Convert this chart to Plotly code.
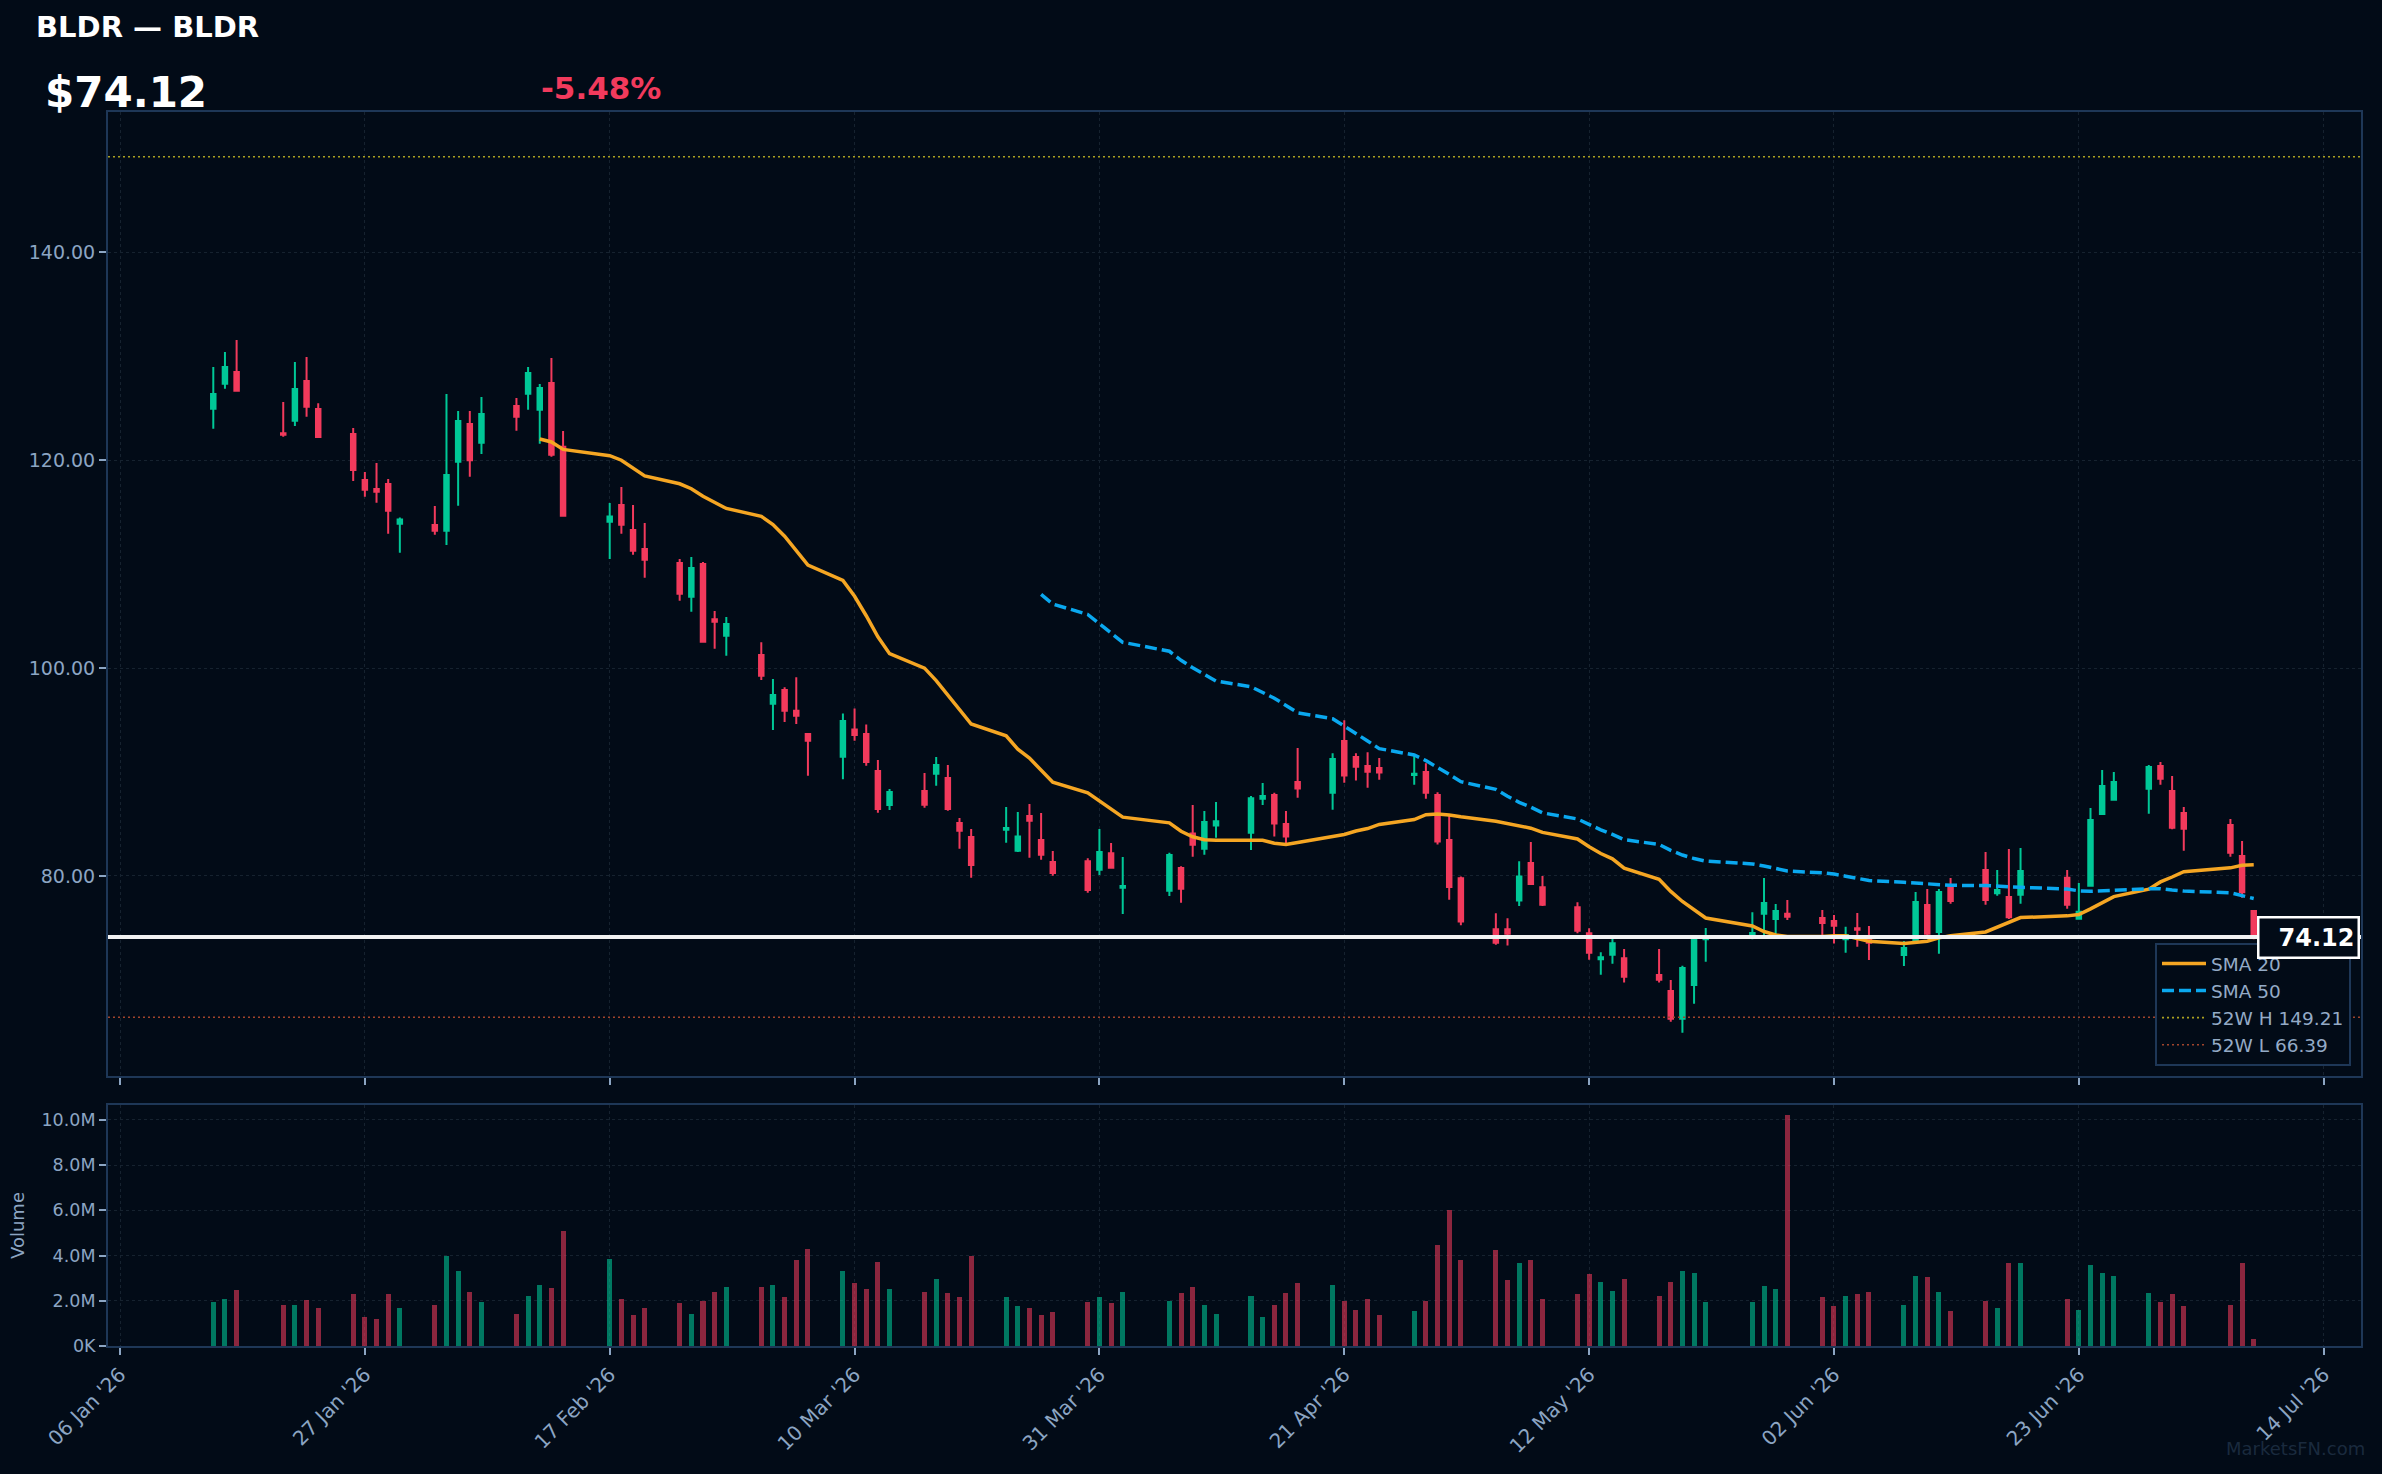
import plotly.graph_objects as go
import pandas as pd

# ---------------- data ----------------
dates = [
    "2026-01-14", "2026-01-15", "2026-01-16", "2026-01-20", "2026-01-21", "2026-01-22", "2026-01-23",
    "2026-01-26", "2026-01-27", "2026-01-28", "2026-01-29", "2026-01-30",
    "2026-02-02", "2026-02-03", "2026-02-04", "2026-02-05", "2026-02-06",
    "2026-02-09", "2026-02-10", "2026-02-11", "2026-02-12", "2026-02-13",
    "2026-02-17", "2026-02-18", "2026-02-19", "2026-02-20",
    "2026-02-23", "2026-02-24", "2026-02-25", "2026-02-26", "2026-02-27",
    "2026-03-02", "2026-03-03", "2026-03-04", "2026-03-05", "2026-03-06",
    "2026-03-09", "2026-03-10", "2026-03-11", "2026-03-12", "2026-03-13",
    "2026-03-16", "2026-03-17", "2026-03-18", "2026-03-19", "2026-03-20",
    "2026-03-23", "2026-03-24", "2026-03-25", "2026-03-26", "2026-03-27",
    "2026-03-30", "2026-03-31", "2026-04-01", "2026-04-02",
    "2026-04-06", "2026-04-07", "2026-04-08", "2026-04-09", "2026-04-10",
    "2026-04-13", "2026-04-14", "2026-04-15", "2026-04-16", "2026-04-17",
    "2026-04-20", "2026-04-21", "2026-04-22", "2026-04-23", "2026-04-24",
    "2026-04-27", "2026-04-28", "2026-04-29", "2026-04-30", "2026-05-01",
    "2026-05-04", "2026-05-05", "2026-05-06", "2026-05-07", "2026-05-08",
    "2026-05-11", "2026-05-12", "2026-05-13", "2026-05-14", "2026-05-15",
    "2026-05-18", "2026-05-19", "2026-05-20", "2026-05-21", "2026-05-22",
    "2026-05-26", "2026-05-27", "2026-05-28", "2026-05-29",
    "2026-06-01", "2026-06-02", "2026-06-03", "2026-06-04", "2026-06-05",
    "2026-06-08", "2026-06-09", "2026-06-10", "2026-06-11", "2026-06-12",
    "2026-06-15", "2026-06-16", "2026-06-17", "2026-06-18",
    "2026-06-22", "2026-06-23", "2026-06-24", "2026-06-25", "2026-06-26",
    "2026-06-29", "2026-06-30", "2026-07-01", "2026-07-02",
    "2026-07-06", "2026-07-07", "2026-07-08",
]

opens = [
    124.97, 127.37, 128.50, 122.59, 123.81, 127.63, 124.93,
    122.53, 118.10, 117.23, 117.72, 113.90,
    113.77, 113.22, 119.87, 123.49, 121.69,
    125.22, 126.41, 124.87, 127.44, 121.31,
    114.09, 115.69, 113.29, 111.46,
    110.11, 106.87, 110.02, 104.69, 103.12,
    101.26, 96.57, 97.89, 95.90, 93.65,
    91.47, 94.10, 93.65, 90.09, 86.82,
    88.17, 89.84, 89.42, 85.09, 83.74,
    84.45, 82.42, 85.76, 83.45, 81.33,
    81.40, 80.60, 82.17, 78.86,
    78.57, 80.76, 84.09, 82.62, 84.86,
    84.16, 87.43, 87.79, 85.00, 89.04,
    88.01, 92.98, 91.44, 90.58, 90.39,
    89.71, 90.00, 87.79, 83.46, 79.77,
    74.86, 74.86, 77.62, 81.24, 78.90,
    76.97, 74.47, 71.97, 72.42, 72.07,
    70.46, 68.92, 66.26, 69.50, 73.89,
    74.10, 76.35, 75.85, 76.36,
    75.94, 75.65, 73.90, 74.95, 73.83,
    72.38, 73.80, 77.19, 74.60, 78.96,
    80.56, 78.32, 77.96, 78.19,
    79.83, 75.88, 79.06, 85.95, 87.33,
    88.39, 90.57, 88.17, 86.05,
    84.89, 81.91, 76.62,
]

highs = [
    128.98, 130.42, 131.58, 125.60, 129.46, 129.94, 125.48,
    123.11, 118.87, 119.74, 118.20, 114.50,
    115.60, 126.38, 124.74, 124.74, 126.09,
    125.99, 128.98, 127.34, 129.84, 122.82,
    115.89, 117.43, 115.69, 113.96,
    110.50, 110.69, 110.21, 105.49, 104.92,
    102.48, 98.95, 98.15, 99.11, 93.72,
    95.64, 96.12, 94.58, 91.15, 88.36,
    89.90, 91.44, 90.67, 85.57, 84.51,
    86.63, 86.15, 86.92, 86.05, 82.39,
    81.69, 84.51, 83.16, 81.81,
    82.23, 80.92, 86.82, 86.24, 87.11,
    87.69, 88.94, 88.00, 86.25, 92.31,
    91.80, 94.97, 91.80, 91.89, 91.35,
    91.54, 90.83, 88.04, 85.80, 79.93,
    76.40, 75.92, 81.40, 83.26, 79.99,
    77.46, 74.95, 72.64, 74.28, 72.96,
    72.96, 69.98, 71.36, 74.30, 74.98,
    76.50, 79.80, 77.29, 77.68,
    76.71, 76.23, 75.10, 76.42, 75.17,
    73.73, 78.45, 78.73, 78.73, 79.79,
    82.30, 80.56, 82.58, 82.68,
    80.56, 79.31, 86.53, 90.19, 90.00,
    90.67, 90.96, 89.61, 86.63,
    85.47, 83.35, 76.70,
]

lows = [
    123.04, 126.89, 126.60, 122.27, 123.30, 124.20, 122.17,
    118.00, 116.50, 115.92, 112.94, 111.10,
    112.84, 111.84, 115.63, 118.42, 120.60,
    122.85, 124.87, 121.60, 120.35, 114.57,
    110.50, 112.94, 110.91, 108.70,
    106.49, 105.43, 102.44, 101.87, 101.19,
    98.85, 94.04, 94.81, 94.62, 89.64,
    89.29, 93.01, 90.60, 86.08, 86.34,
    86.56, 88.68, 86.27, 82.62, 79.83,
    83.19, 82.30, 81.75, 81.56, 80.02,
    78.38, 80.08, 80.70, 76.33,
    78.06, 77.42, 81.85, 82.04, 83.68,
    82.49, 86.82, 83.78, 83.17, 87.53,
    86.37, 88.97, 89.17, 88.49, 89.26,
    88.78, 87.43, 83.01, 77.71, 75.24,
    73.38, 73.29, 77.10, 79.16, 77.10,
    74.47, 71.94, 70.49, 71.55, 69.73,
    69.73, 65.97, 64.91, 67.70, 71.74,
    73.90, 74.30, 74.30, 75.75,
    74.30, 73.50, 72.60, 73.18, 71.90,
    71.32, 73.60, 74.30, 72.51, 77.32,
    77.23, 78.09, 75.85, 77.32,
    76.84, 75.85, 78.96, 85.86, 87.33,
    85.98, 88.78, 84.48, 82.42,
    81.85, 77.90, 73.90,
]

closes = [
    126.38, 128.98, 126.70, 122.46, 126.86, 125.16, 122.24,
    119.06, 117.17, 116.98, 115.15, 114.31,
    113.22, 118.58, 123.78, 120.00, 124.45,
    124.20, 128.40, 126.96, 120.54, 114.67,
    114.60, 113.80, 111.30, 110.43,
    107.16, 109.63, 102.54, 104.47, 104.24,
    99.27, 97.41, 95.90, 95.42, 93.01,
    94.90, 93.56, 90.96, 86.43, 88.07,
    86.85, 90.67, 86.43, 84.35, 81.04,
    84.61, 83.80, 85.31, 82.04, 80.28,
    78.64, 82.30, 80.79, 79.02,
    82.01, 78.77, 83.00, 85.18, 85.25,
    87.46, 87.69, 85.03, 83.78, 88.40,
    91.25, 89.65, 90.51, 90.03, 89.94,
    89.84, 88.01, 83.30, 78.93, 75.60,
    73.57, 74.44, 79.93, 79.22, 77.23,
    74.73, 72.61, 72.16, 73.51, 70.30,
    70.01, 66.26, 71.14, 74.00, 74.05,
    74.50, 77.40, 76.62, 76.07,
    75.46, 75.20, 74.30, 74.82, 73.57,
    73.06, 77.48, 74.44, 78.45, 77.58,
    77.68, 78.64, 76.01, 80.47,
    77.23, 76.55, 85.38, 88.65, 89.03,
    90.48, 89.35, 84.64, 84.54,
    82.23, 78.42, 74.12,
]

volumes_m = [
    1.95, 2.08, 2.48, 1.81, 1.81, 2.03, 1.68,
    2.30, 1.28, 1.19, 2.30, 1.68,
    1.82, 4.00, 3.30, 2.40, 1.96,
    1.40, 2.20, 2.70, 2.55, 5.10,
    3.85, 2.10, 1.35, 1.70,
    1.90, 1.40, 2.00, 2.40, 2.60,
    2.60, 2.70, 2.15, 3.80, 4.30,
    3.30, 2.80, 2.50, 3.70, 2.50,
    2.40, 2.95, 2.35, 2.15, 4.00,
    2.15, 1.75, 1.70, 1.35, 1.50,
    1.95, 2.15, 1.90, 2.40,
    2.00, 2.35, 2.60, 1.80, 1.40,
    2.20, 1.30, 1.80, 2.35, 2.80,
    2.70, 2.00, 1.60, 2.10, 1.35,
    1.55, 2.00, 4.45, 6.00, 3.80,
    4.25, 2.90, 3.65, 3.80, 2.10,
    2.30, 3.20, 2.85, 2.45, 2.95,
    2.20, 2.85, 3.30, 3.25, 1.95,
    1.95, 2.65, 2.50, 10.20,
    2.15, 1.75, 2.20, 2.30, 2.40,
    1.80, 3.10, 3.05, 2.40, 1.55,
    2.00, 1.70, 3.65, 3.65,
    2.10, 1.60, 3.60, 3.25, 3.10,
    2.35, 1.95, 2.30, 1.75,
    1.80, 3.65, 0.30,
]

x_tick_dates = ["2026-01-06", "2026-01-27", "2026-02-17", "2026-03-10", "2026-03-31",
                "2026-04-21", "2026-05-12", "2026-06-02", "2026-06-23", "2026-07-14"]
x_tick_labels = ["06 Jan '26", "27 Jan '26", "17 Feb '26", "10 Mar '26", "31 Mar '26",
                 "21 Apr '26", "12 May '26", "02 Jun '26", "23 Jun '26", "14 Jul '26"]
price_ticks = [80, 100, 120, 140]
vol_ticks_m = [0, 2, 4, 6, 8, 10]
vol_tick_labels = ["0K", "2.0M", "4.0M", "6.0M", "8.0M", "10.0M"]

ticker = "BLDR"
company = "BLDR"
high_52w = 149.21
low_52w = 66.39
last_price = 74.12
pct_change = -5.48

# ---------------- styling ----------------
BG = "#020b17"
FRAME = "#1e3757"
GRID = "#16222f"
TXT = "#8ca5c3"
UP = "#00c897"
DN = "#f23a5c"
UP_V = "rgba(0,200,151,0.58)"
DN_V = "rgba(242,58,92,0.58)"
FONT = "DejaVu Sans"

dt = pd.to_datetime(dates)
close_s = pd.Series(closes)
sma20 = close_s.rolling(20).mean()
sma50 = close_s.rolling(50).mean()
vols = [v * 1e6 for v in volumes_m]
vol_colors = [UP_V if c >= o else DN_V for o, c in zip(opens, closes)]

x_lo = dt[0] - pd.Timedelta(days=9.03)
x_hi = dt[-1] + pd.Timedelta(days=9.2)

fig = go.Figure()

fig.add_trace(go.Candlestick(
    x=dt, open=opens, high=highs, low=lows, close=closes,
    increasing=dict(line=dict(color=UP, width=2), fillcolor=UP),
    decreasing=dict(line=dict(color=DN, width=2), fillcolor=DN),
    whiskerwidth=0, showlegend=False, hoverinfo="skip",
    xaxis="x", yaxis="y",
))

fig.add_trace(go.Scatter(
    x=dt, y=sma20, mode="lines", name="SMA 20",
    line=dict(color="#f5a623", width=3.5), xaxis="x", yaxis="y",
))
fig.add_trace(go.Scatter(
    x=dt, y=sma50, mode="lines", name="SMA 50",
    line=dict(color="#0aa8ef", width=3.5, dash="12px,5px"), xaxis="x", yaxis="y",
))
fig.add_trace(go.Scatter(
    x=[x_lo, x_hi], y=[high_52w, high_52w], mode="lines",
    name=f"52W H {high_52w:.2f}",
    line=dict(color="#aaa020", width=1.6, dash="2px,3px"), xaxis="x", yaxis="y",
))
fig.add_trace(go.Scatter(
    x=[x_lo, x_hi], y=[low_52w, low_52w], mode="lines",
    name=f"52W L {low_52w:.2f}",
    line=dict(color="#a0452c", width=1.6, dash="2px,3px"), xaxis="x", yaxis="y",
))

fig.add_trace(go.Bar(
    x=dt, y=vols, marker=dict(color=vol_colors, line=dict(width=0)),
    width=0.43 * 86400000, showlegend=False, hoverinfo="skip",
    xaxis="x2", yaxis="y2",
))

# current price line
fig.add_shape(type="line", xref="x", yref="y", x0=x_lo, x1=x_hi,
              y0=last_price, y1=last_price,
              line=dict(color="#f2f2f2", width=4), layer="above")

W, H = 2382, 1474
L, R, T, B = 108, 21, 112, 128
PW, PH = W - L - R, H - T - B


def px_x(px):
    return (px - L) / PW


def px_y(py):
    return (H - B - py) / PH


main_dom = [px_y(1076), 1.0]
vol_dom = [0.0, px_y(1105)]

axis_common = dict(
    showline=True, linecolor=FRAME, linewidth=2, mirror=True,
    showgrid=True, gridcolor=GRID, griddash="dot", gridwidth=1,
    zeroline=False, ticks="outside", ticklen=7, tickwidth=1.5, tickcolor=TXT,
)

fig.update_layout(
    width=W, height=H,
    margin=dict(l=L, r=R, t=T, b=B),
    paper_bgcolor=BG, plot_bgcolor=BG,
    font=dict(family=FONT, color=TXT),
    boxgap=0.45,
    bargap=0,
    hovermode=False,
    xaxis=dict(
        **axis_common, domain=[0, 1], anchor="y", matches="x2",
        range=[x_lo, x_hi], tickvals=x_tick_dates, showticklabels=False,
        rangeslider=dict(visible=False), type="date",
    ),
    xaxis2=dict(
        **axis_common, domain=[0, 1], anchor="y2",
        range=[x_lo, x_hi], tickvals=x_tick_dates, ticktext=x_tick_labels,
        tickangle=-45, type="date",
        tickfont=dict(family=FONT, color=TXT, size=20),
    ),
    yaxis=dict(
        **axis_common, domain=main_dom, anchor="x",
        range=[60.74, 153.52], tickvals=price_ticks, tickformat=".2f",
        tickfont=dict(family=FONT, color=TXT, size=19),
    ),
    yaxis2=dict(
        **axis_common, domain=vol_dom, anchor="x2",
        range=[0, 10.66e6], tickvals=[v * 1e6 for v in vol_ticks_m], ticktext=vol_tick_labels,
        tickfont=dict(family=FONT, color=TXT, size=17.5),
        title=dict(text="Volume", font=dict(family=FONT, size=18, color=TXT), standoff=12),
    ),
    legend=dict(
        x=px_x(2351), xanchor="right", y=px_y(1066), yanchor="bottom",
        bgcolor=BG, bordercolor=FRAME, borderwidth=2,
        font=dict(family=FONT, size=18.5, color="#94aac6"),
        itemwidth=44, tracegroupgap=0,
    ),
)

annotations = [
    dict(text=f"<b>{ticker} — {company}</b>", x=px_x(34), y=px_y(27),
         font=dict(family=FONT, size=29, color="#ffffff")),
    dict(text=f"<b>${last_price:.2f}</b>", x=px_x(43), y=px_y(93),
         font=dict(family=FONT, size=42, color="#ffffff")),
    dict(text=f"<b>{pct_change:.2f}%</b>", x=px_x(539), y=px_y(88),
         font=dict(family=FONT, size=31, color="#f23a5c")),
]
for a in annotations:
    a.update(xref="paper", yref="paper", xanchor="left", yanchor="middle", showarrow=False)
    fig.add_annotation(**a)

fig.add_annotation(
    text=f"<b>{last_price:.2f}</b>", xref="paper", yref="paper",
    x=px_x(2360), y=px_y(937), xanchor="right", yanchor="middle",
    showarrow=False, align="right", width=92, height=32,
    bgcolor=BG, bordercolor="#ffffff", borderwidth=2.5, borderpad=3,
    font=dict(family=FONT, size=24, color="#ffffff"),
)

fig.add_annotation(
    text="MarketsFN.com", xref="paper", yref="paper",
    x=px_x(2367), y=px_y(1448), xanchor="right", yanchor="middle",
    showarrow=False, font=dict(family=FONT, size=18, color="#1a2a3e"),
)

fig.write_html("out.html")
